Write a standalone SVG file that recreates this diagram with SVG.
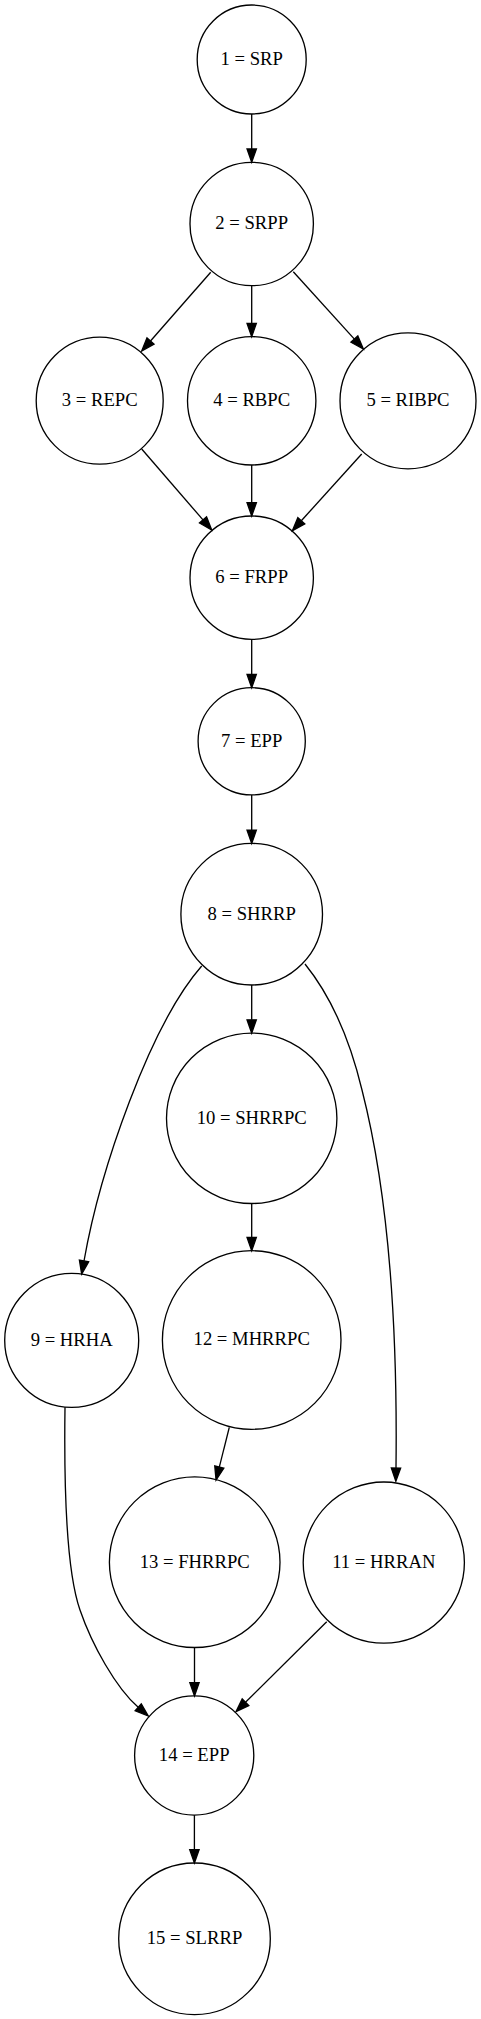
<svg xmlns="http://www.w3.org/2000/svg" width="481" height="2019" viewBox="0 0 481 2019">
<style>
.node circle{fill:none;stroke:#000;stroke-width:1.33}
.node text{font-family:'Liberation Serif','Times New Roman','DejaVu Serif',serif;font-size:18.67px;text-anchor:middle;fill:#000}
.edges path{fill:none;stroke:#000;stroke-width:1.33}
</style>
<defs>
<marker id="arr" markerUnits="userSpaceOnUse" markerWidth="16" markerHeight="12" refX="0" refY="6" orient="auto" viewBox="0 0 16 12" overflow="visible">
<path d="M0,1.33 L13.33,6 L0,10.67 Z" fill="#000" stroke="#000" stroke-width="1.33"/>
</marker>
</defs>
<rect width="481" height="2019" fill="#fff"/>
<g class="edges">
<path d="M251.7,114 L251.7,149" marker-end="url(#arr)"/>
<path d="M210.7,272.3 L150.5,341" marker-end="url(#arr)"/>
<path d="M251.7,285.7 L251.7,323.3" marker-end="url(#arr)"/>
<path d="M293.3,271.7 L354.4,339.1" marker-end="url(#arr)"/>
<path d="M141.7,449 L203,519.9" marker-end="url(#arr)"/>
<path d="M251.7,465 L251.7,502.7" marker-end="url(#arr)"/>
<path d="M361.7,454 L301.3,520.8" marker-end="url(#arr)"/>
<path d="M251.7,639.4 L251.7,674.4" marker-end="url(#arr)"/>
<path d="M251.7,794.9 L251.7,830.1" marker-end="url(#arr)"/>
<path d="M201.7,966 C150,1025 100,1170 84,1261" marker-end="url(#arr)"/>
<path d="M251.7,985 L251.7,1019.8" marker-end="url(#arr)"/>
<path d="M305,964 C330,995 350,1040 362,1090 C385,1180 398,1300 396,1468" marker-end="url(#arr)"/>
<path d="M251.7,1203.5 L251.7,1237.4" marker-end="url(#arr)"/>
<path d="M65,1407.3 C64,1480 66,1570 80,1610 C92,1645 116,1688 138.2,1707.3" marker-end="url(#arr)"/>
<path d="M229.3,1427.3 L219.3,1467.1" marker-end="url(#arr)"/>
<path d="M194.5,1647.5 L194.5,1682.6" marker-end="url(#arr)"/>
<path d="M326.7,1621.7 L245.5,1702.3" marker-end="url(#arr)"/>
<path d="M194.4,1815.1 L194.4,1849.7" marker-end="url(#arr)"/>
</g>
<g id="n1" class="node"><circle cx="251.7" cy="59.5" r="54.5"/><text x="251.7" y="64.9" font-family="Liberation Serif, serif">1 = SRP</text></g>
<g id="n2" class="node"><circle cx="251.7" cy="224" r="61.7"/><text x="251.7" y="229.4" font-family="Liberation Serif, serif">2 = SRPP</text></g>
<g id="n3" class="node"><circle cx="99.7" cy="400.7" r="63.5"/><text x="99.7" y="406.1" font-family="Liberation Serif, serif">3 = REPC</text></g>
<g id="n4" class="node"><circle cx="251.7" cy="400.8" r="64.2"/><text x="251.7" y="406.2" font-family="Liberation Serif, serif">4 = RBPC</text></g>
<g id="n5" class="node"><circle cx="408" cy="400.8" r="68"/><text x="408" y="406.2" font-family="Liberation Serif, serif">5 = RIBPC</text></g>
<g id="n6" class="node"><circle cx="251.7" cy="577.7" r="61.7"/><text x="251.7" y="583.1" font-family="Liberation Serif, serif">6 = FRPP</text></g>
<g id="n7" class="node"><circle cx="251.7" cy="741.3" r="53.6"/><text x="251.7" y="746.7" font-family="Liberation Serif, serif">7 = EPP</text></g>
<g id="n8" class="node"><circle cx="251.7" cy="914.2" r="70.8"/><text x="251.7" y="919.6" font-family="Liberation Serif, serif">8 = SHRRP</text></g>
<g id="n9" class="node"><circle cx="71.7" cy="1340.3" r="67"/><text x="71.7" y="1345.7" font-family="Liberation Serif, serif">9 = HRHA</text></g>
<g id="n10" class="node"><circle cx="251.7" cy="1118.3" r="85.2"/><text x="251.7" y="1123.7" font-family="Liberation Serif, serif">10 = SHRRPC</text></g>
<g id="n11" class="node"><circle cx="383.8" cy="1562.6" r="80.6"/><text x="383.8" y="1568" font-family="Liberation Serif, serif">11 = HRRAN</text></g>
<g id="n12" class="node"><circle cx="251.7" cy="1340" r="89.3"/><text x="251.7" y="1345.4" font-family="Liberation Serif, serif">12 = MHRRPC</text></g>
<g id="n13" class="node"><circle cx="194.7" cy="1562.2" r="85.3"/><text x="194.7" y="1567.6" font-family="Liberation Serif, serif">13 = FHRRPC</text></g>
<g id="n14" class="node"><circle cx="194.2" cy="1755.5" r="59.6"/><text x="194.2" y="1760.9" font-family="Liberation Serif, serif">14 = EPP</text></g>
<g id="n15" class="node"><circle cx="194.5" cy="1938.8" r="75.8"/><text x="194.5" y="1944.2" font-family="Liberation Serif, serif">15 = SLRRP</text></g>
</svg>
